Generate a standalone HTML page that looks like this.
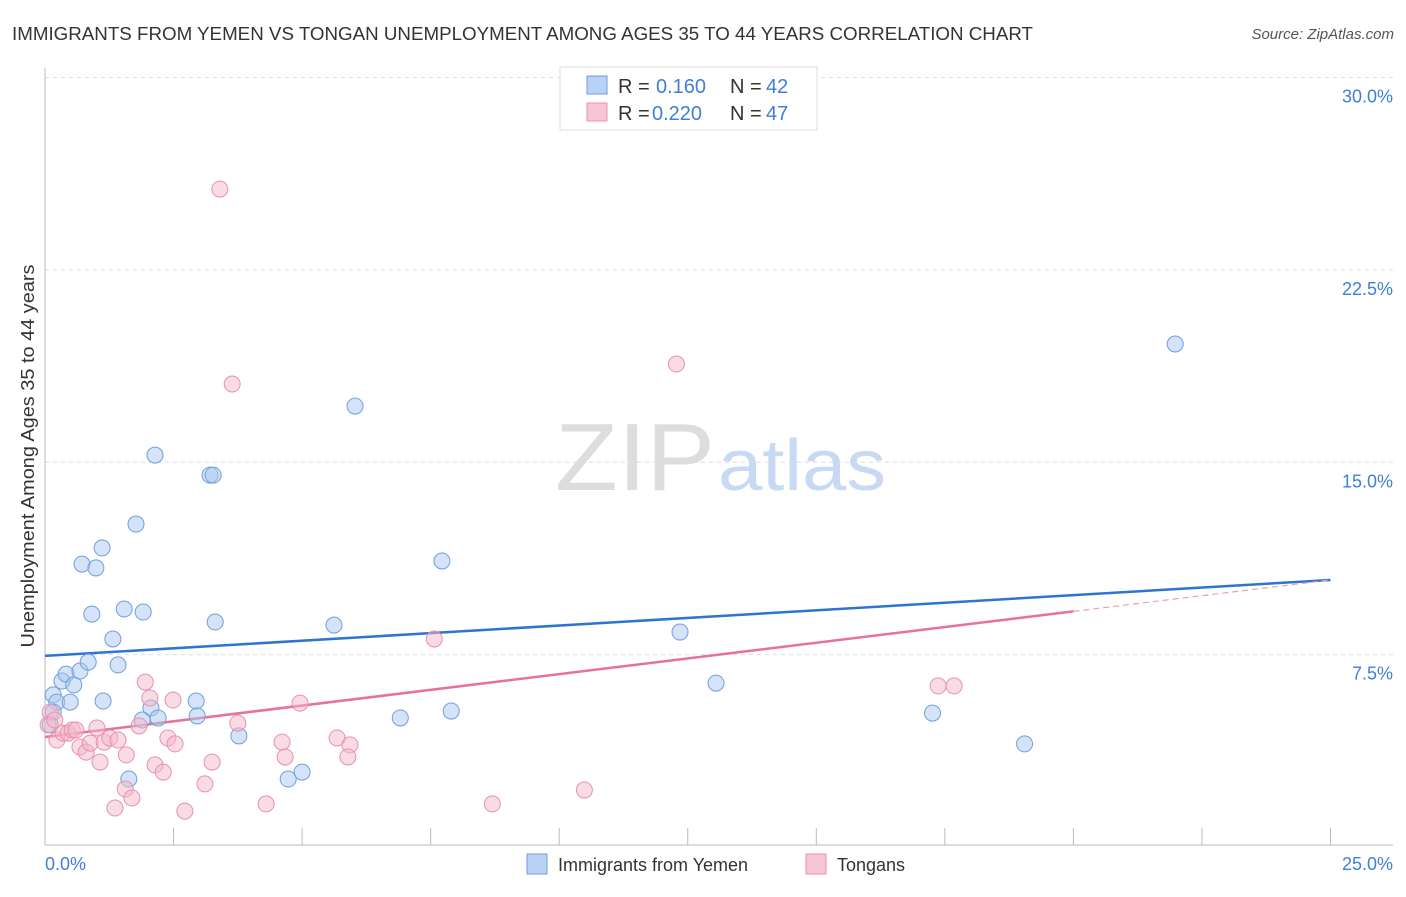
<!DOCTYPE html>
<html><head><meta charset="utf-8">
<style>
body{margin:0;background:#fff;font-family:"Liberation Sans",sans-serif;}
svg text{font-family:"Liberation Sans",sans-serif;}
</style></head>
<body>
<svg id="chart" width="1406" height="892" xmlns="http://www.w3.org/2000/svg">
<text x="12" y="40" font-size="18" fill="#333" textLength="1021" lengthAdjust="spacingAndGlyphs">IMMIGRANTS FROM YEMEN VS TONGAN UNEMPLOYMENT AMONG AGES 35 TO 44 YEARS CORRELATION CHART</text>
<text x="1394" y="39" font-size="15" fill="#555" font-style="italic" text-anchor="end">Source: ZipAtlas.com</text>
<g>
<text x="555" y="490" font-size="96" fill="#ddd" font-family="Liberation Serif, serif" textLength="160" lengthAdjust="spacingAndGlyphs">ZIP</text>
<text x="718" y="490" font-size="72" fill="#c8daf3" textLength="168" lengthAdjust="spacingAndGlyphs">atlas</text>
</g>
<g id="grid"></g>
<g id="axes"></g>
<text transform="translate(34,456) rotate(-90)" font-size="18" fill="#333" text-anchor="middle" textLength="383" lengthAdjust="spacingAndGlyphs">Unemployment Among Ages 35 to 44 years</text>
<g id="lines"></g>
<g id="points"></g>
<g>
<rect x="560" y="67" width="257" height="63" fill="#fff" stroke="#ddd"/>
<rect x="587" y="76" width="20" height="18" fill="#b8d2f3" stroke="#6f9fdd"/>
<text x="618" y="93" font-size="20" fill="#333">R =</text>
<text x="656" y="93" font-size="20" fill="#3f7fd8">0.160</text>
<text x="730" y="93" font-size="20" fill="#333">N =</text>
<text x="766" y="93" font-size="20" fill="#3f7fd8">42</text>
<rect x="587" y="103" width="20" height="18" fill="#f7c5d4" stroke="#e891ae"/>
<text x="618" y="120" font-size="20" fill="#333">R =</text>
<text x="652" y="120" font-size="20" fill="#3f7fd8">0.220</text>
<text x="730" y="120" font-size="20" fill="#333">N =</text>
<text x="766" y="120" font-size="20" fill="#3f7fd8">47</text>
</g>
<g>
<rect x="527" y="854" width="20" height="20" fill="#b8d2f3" stroke="#6f9fdd"/>
<text x="558" y="871" font-size="18" fill="#333">Immigrants from Yemen</text>
<rect x="806" y="854" width="20" height="20" fill="#f7c5d4" stroke="#e891ae"/>
<text x="837" y="871" font-size="18" fill="#333">Tongans</text>
</g>
</svg>
<script>
const yemenX=[.16,.23,.49,.33,.41,.56,.68,.84,.16,.10,.72,.99,1.11,.91,1.32,1.42,1.13,1.54,1.91,1.77,2.14,2.06,1.89,2.20,1.63,2.94,2.96,3.21,3.27,3.31,3.77,4.73,5.00,5.62,6.03,6.91,7.72,7.90,12.35,13.05,17.26,19.05,21.98];
const yemenY=[5.93,5.65,5.65,6.47,6.74,6.32,6.86,7.21,5.26,4.76,11.03,10.88,11.66,9.08,8.11,7.10,5.69,9.28,9.16,12.59,15.28,5.42,4.95,5.03,2.65,5.69,5.11,14.50,14.50,8.77,4.33,2.65,2.92,8.65,17.19,5.03,11.15,5.30,8.38,6.39,5.22,4.02,19.61];
const tonganX=[.10,.06,.19,.23,.35,.45,.53,.60,.68,.80,.88,1.01,1.07,1.15,1.26,1.42,1.36,1.58,1.56,1.69,1.83,1.95,2.04,2.14,2.30,2.39,2.53,2.49,2.72,3.11,3.25,3.40,3.64,3.75,4.30,4.61,4.67,4.96,5.68,5.93,5.89,7.57,8.70,10.49,12.28,17.37,17.68];
const tonganY=[5.26,4.76,4.95,4.17,4.44,4.44,4.56,4.56,3.90,3.70,4.05,4.64,3.31,4.09,4.25,4.17,1.52,3.59,2.26,1.91,4.72,6.43,5.81,3.20,2.92,4.25,4.02,5.73,1.40,2.46,3.31,25.65,18.05,4.83,1.68,4.09,3.51,5.61,4.25,3.98,3.51,8.11,1.68,2.22,18.83,6.28,6.28];
const yTicks=[7.5,15,22.5,30];
const yTickLabels=["7.5%","15.0%","22.5%","30.0%"];
const xTicks=[0,2.5,5,7.5,10,12.5,15,17.5,20,22.5,25];
const xLabels=["0.0%","25.0%"];
const yemenTrend=[7.45,10.41];
const tonganTrend=[4.29,10.41];
const tonganSolidEnd=20;

const NS="http://www.w3.org/2000/svg";
const X=v=>45+v*51.42;
const Y=v=>847-v*25.65;
function mk(tag,attrs,parent){const e=document.createElementNS(NS,tag);for(const k in attrs)e.setAttribute(k,attrs[k]);parent.appendChild(e);return e;}
const grid=document.getElementById('grid'),axes=document.getElementById('axes'),lines=document.getElementById('lines'),pts=document.getElementById('points');
yTicks.forEach((t,i)=>{
 const l=mk('line',{x1:45,x2:1393,y1:Y(t),y2:Y(t),stroke:'#ddd','stroke-dasharray':'4,4'},grid);
 
 
 const tx=mk('text',{x:1393,y:Y(t)+25,'font-size':18,fill:'#3f7fd8','text-anchor':'end'},axes);
 tx.textContent=yTickLabels[i];
 
 
});
const ya=mk('line',{x1:45,x2:45,y1:68,y2:845,stroke:'#bbb'},axes);


const xa=mk('line',{x1:45,x2:1393,y1:845,y2:845,stroke:'#bbb'},axes);


xTicks.forEach(t=>{
 const l=mk('line',{x1:X(t),x2:X(t),y1:828,y2:845,stroke:'#bbb'},axes);
 
 
});
const xl0=mk('text',{x:45,y:870,'font-size':18,fill:'#3f7fd8'},axes);xl0.textContent=xLabels[0];


const xl1=mk('text',{x:1393,y:870,'font-size':18,fill:'#3f7fd8','text-anchor':'end'},axes);xl1.textContent=xLabels[1];



function dot(x,y,fill,stroke,name){const c=mk('circle',{cx:X(x),cy:Y(y),r:8,fill:fill,'fill-opacity':0.5,stroke:stroke,'stroke-width':1},pts);
 
 }
yemenX.forEach((x,i)=>dot(x,yemenY[i],'#a9c8ef','#6f9fdd','yemen-point'));
tonganX.forEach((x,i)=>dot(x,tonganY[i],'#f4b8cb','#e891ae','tongan-point'));

const bl=mk('line',{x1:X(0),y1:Y(yemenTrend[0]),x2:X(25),y2:Y(yemenTrend[1]),stroke:'#2f74d0','stroke-width':2.5},lines);


const slope=(tonganTrend[1]-tonganTrend[0])/25;
const midY=tonganTrend[0]+slope*tonganSolidEnd;
const pl=mk('line',{x1:X(0),y1:Y(tonganTrend[0]),x2:X(tonganSolidEnd),y2:Y(midY),stroke:'#e8709a','stroke-width':2.5},lines);


const pd=mk('line',{x1:X(tonganSolidEnd),y1:Y(midY),x2:X(25),y2:Y(tonganTrend[1]),stroke:'#e8a0b8','stroke-width':1.2,'stroke-dasharray':'6,4'},lines);


</script>
</body></html>
